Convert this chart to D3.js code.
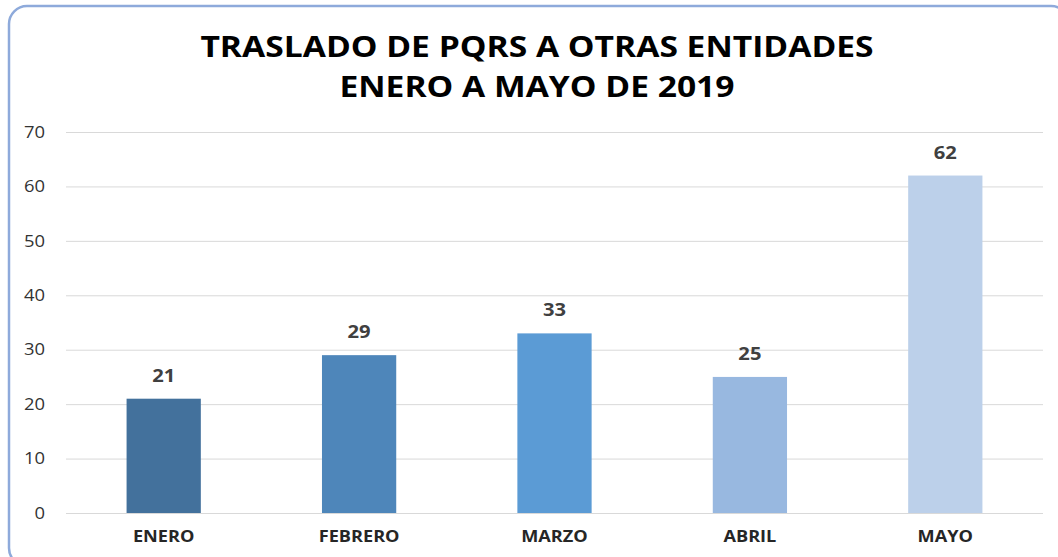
<!DOCTYPE html>
<html><head><meta charset="utf-8">
<script src="https://cdn.jsdelivr.net/npm/d3@7"></script>
<style>body{margin:0;background:#fff}svg{display:block}</style>
</head><body>
<svg id="c" width="1058" height="557"></svg>
<script>
const categories = ["ENERO","FEBRERO","MARZO","ABRIL","MAYO"];
const values = [21,29,33,25,62];
const barColors = ["#43719c","#4e86ba","#5b9bd5","#98b8e0","#bcd0ea"];
const yTicks = [0,10,20,30,40,50,60,70];
const titleLines = ["TRASLADO DE PQRS A OTRAS ENTIDADES","ENERO A MAYO DE 2019"];

const svg = d3.select("#c");
const font = "'Open Sans', sans-serif";

function stretch(sel, factor){
  sel.each(function(){
    const l = this.getComputedTextLength();
    d3.select(this).attr("textLength", l*factor).attr("lengthAdjust","spacingAndGlyphs");
  });
}

svg.append("rect").attr("x",9).attr("y",6).attr("width",1060).attr("height",560)
  .attr("rx",18).attr("fill","#fff").attr("stroke","#8eaadb").attr("stroke-width",2.5);

const x = d3.scaleBand().domain(categories).range([66,1043]).paddingInner(0.62).paddingOuter(0.31);
const y = d3.scaleLinear().domain([0,70]).range([513,132]);

// gridlines
svg.append("g").selectAll("line").data(yTicks).join("line")
  .attr("x1",66).attr("x2",1043).attr("y1",d=>y(d)+0.5).attr("y2",d=>y(d)+0.5)
  .attr("stroke","#d9d9d9").attr("stroke-width",1);

// y axis labels
const yAxis = d3.axisLeft(y).tickValues(yTicks).tickSize(0).tickPadding(0);
const ya = svg.append("g").attr("transform","translate(45,0)").call(yAxis);
ya.select(".domain").remove();
ya.selectAll("text").attr("font-family",font).attr("font-size",16).attr("fill","#333")
  .attr("dy","0.33em").call(stretch,1.15);

// bars
svg.append("g").selectAll("rect").data(values).join("rect")
  .attr("x",(d,i)=>x(categories[i])).attr("width",x.bandwidth())
  .attr("y",d=>y(d)).attr("height",d=>y(0)-y(d))
  .attr("fill",(d,i)=>barColors[i]);

// value labels
svg.append("g").selectAll("text").data(values).join("text")
  .attr("x",(d,i)=>x(categories[i])+x.bandwidth()/2).attr("y",d=>y(d)-17)
  .attr("text-anchor","middle").attr("font-family",font).attr("font-weight","bold")
  .attr("font-size",18).attr("fill","#404040").text(d=>d).call(stretch,1.12);

// x axis labels
const xAxis = d3.axisBottom(x).tickSize(0).tickPadding(0);
const xa = svg.append("g").attr("transform","translate(0,529)").call(xAxis);
xa.select(".domain").remove();
xa.selectAll("text").attr("font-family",font).attr("font-weight","bold").attr("font-size",16.5)
  .attr("fill","#262626").attr("dy","0.76em").call(stretch,1.1);

// title
svg.append("g").selectAll("text").data(titleLines).join("text")
  .attr("x",537).attr("y",(d,i)=>57+i*40).attr("text-anchor","middle")
  .attr("font-family",font).attr("font-weight","bold").attr("font-size",28)
  .attr("fill","#000").text(d=>d).call(stretch,1.2);
</script>
</body></html>
